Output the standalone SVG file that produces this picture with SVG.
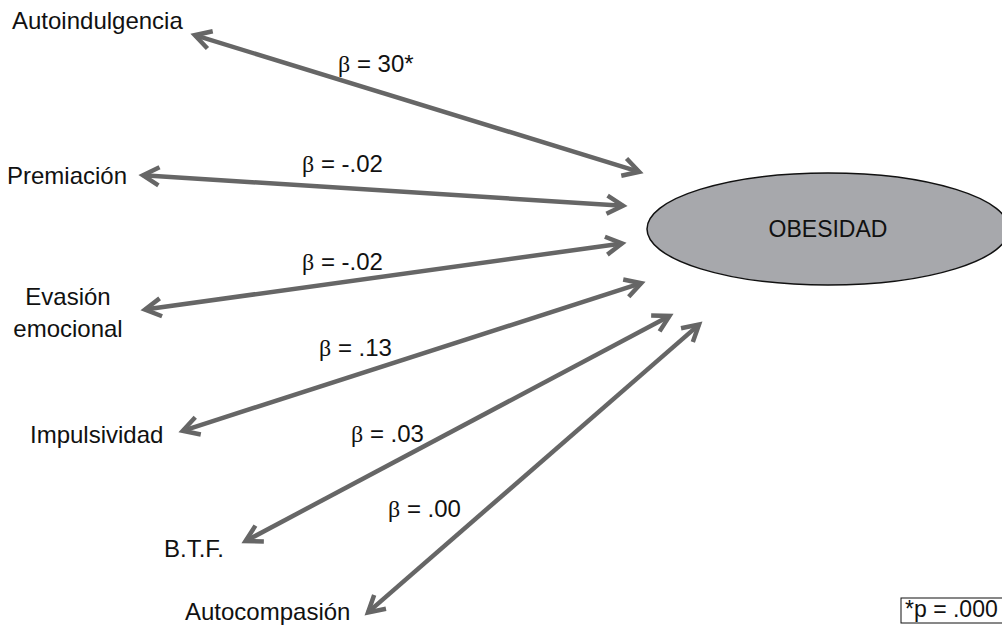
<svg xmlns="http://www.w3.org/2000/svg" width="1002" height="627" viewBox="0 0 1002 627">
<style>
text{font-family:"Liberation Sans",Arial,sans-serif;font-size:24px;fill:#111}
.b{font-family:"Liberation Serif","Times New Roman",serif}
.c line{stroke:#666;stroke-width:4.5;fill:none;marker-start:url(#ah);marker-end:url(#ah)}
</style>
<defs>
<marker id="ah" markerUnits="userSpaceOnUse" orient="auto-start-reverse" refX="0" refY="0" markerWidth="30" markerHeight="30" viewBox="-25 -15 30 30" overflow="visible">
<path d="M-16,-9 L0,0 L-16,9" fill="none" stroke="#666" stroke-width="4.5" stroke-linejoin="miter"/>
</marker>
</defs>
<rect width="1002" height="627" fill="#fff"/>
<g id="connectors" class="c">
<line x1="194.8" y1="35.2" x2="639.2" y2="171.8"/>
<line x1="143" y1="175.3" x2="623" y2="205.7"/>
<line x1="145" y1="309.5" x2="622" y2="243.5"/>
<line x1="182.8" y1="430.8" x2="641.2" y2="283.2"/>
<line x1="245.5" y1="541.1" x2="669.5" y2="315.9"/>
<line x1="368" y1="612.4" x2="699" y2="324.6"/>
</g>
<g id="labels">
<text x="338" y="72"><tspan class="b">β</tspan> = 30*</text>
<text x="302" y="172"><tspan class="b">β</tspan> = -.02</text>
<text x="302" y="270"><tspan class="b">β</tspan> = -.02</text>
<text x="319" y="356"><tspan class="b">β</tspan> = .13</text>
<text x="351" y="442"><tspan class="b">β</tspan> = .03</text>
<text x="388" y="517"><tspan class="b">β</tspan> = .00</text>
</g>
<g id="obesidad">
<ellipse cx="828" cy="229" rx="181" ry="56" fill="#a7a8ac" stroke="#111" stroke-width="1.5"/>
<text x="828" y="237" text-anchor="middle" style="font-size:23px">OBESIDAD</text>
</g>
<g id="autoindulgencia"><text x="12" y="29">Autoindulgencia</text></g>
<g id="premiacion"><text x="7" y="184">Premiación</text></g>
<g id="evasion"><text x="68" y="305" text-anchor="middle">Evasión</text><text x="68" y="337" text-anchor="middle">emocional</text></g>
<g id="impulsividad"><text x="30" y="443">Impulsividad</text></g>
<g id="btf"><text x="164" y="557">B.T.F.</text></g>
<g id="autocompasion"><text x="185" y="620">Autocompasión</text></g>
<g id="nota">
<rect x="901" y="598" width="105" height="25" fill="none" stroke="#111" stroke-width="1"/>
<text x="905" y="617" style="font-size:23px">*p = .000</text>
</g>
</svg>
